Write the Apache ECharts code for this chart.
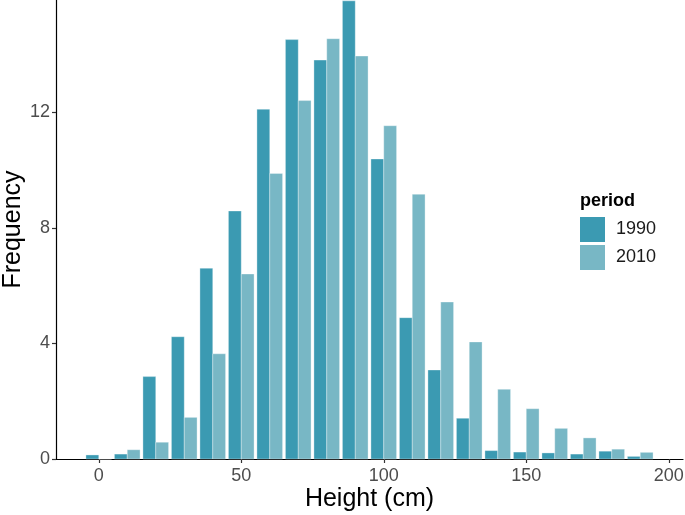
<!DOCTYPE html>
<html>
<head>
<meta charset="utf-8">
<script src="https://cdn.jsdelivr.net/npm/echarts@6/dist/echarts.min.js"></script>
<style>html,body{margin:0;padding:0;background:#fff}#c{width:685px;height:515px}</style>
</head>
<body>
<div id="c"></div>
<script>
const binCenters = [0,10,20,30,40,50,60,70,80,90,100,110,120,130,140,150,160,170,180,190];
const freq1990 = [0.14,0.17,2.85,4.23,6.60,8.58,12.10,14.51,13.80,15.85,10.38,4.89,3.08,1.41,0.29,0.24,0.21,0.17,0.27,0.09];
const freq2010 = [0,0.32,0.58,1.44,3.64,6.40,9.88,12.40,14.54,13.94,11.53,9.16,5.43,4.05,2.41,1.74,1.06,0.73,0.34,0.23];
const xTicks = [0,50,100,150,200];
const yTicks = [0,4,8,12];
const seriesNames = ['1990','2010'];
const colors = ['#3B9AB2','#78B7C5'];

const FONT = "'Liberation Sans', Arial, sans-serif";
const chart = echarts.init(document.getElementById('c'), null, {renderer:'canvas'});

function makeRender(offset, width, color){
  return function(params, api){
    const x = api.value(0), y = api.value(1);
    const p0 = api.coord([x + offset, y]);
    const p1 = api.coord([x + offset + width, 0]);
    return {
      type:'rect',
      shape:{x:p0[0], y:p0[1], width:p1[0]-p0[0], height:p1[1]-p0[1]},
      style:{fill:color, stroke:'rgba(255,255,255,0.55)', lineWidth:0.6}
    };
  };
}

const option = {
  animation:false,
  backgroundColor:'#ffffff',
  title:{text:'period', left:580, top:192, padding:0, textStyle:{fontFamily:FONT, fontSize:18, fontWeight:'bold', color:'#000'}},
  legend:{
    orient:'vertical', left:580, top:217, padding:0, itemWidth:25, itemHeight:25, itemGap:3,
    icon:'rect', data:seriesNames,
    textStyle:{fontFamily:FONT, fontSize:18, color:'#1a1a1a', padding:[0,0,0,6]}
  },
  grid:{left:56, width:627, top:0, height:459, containLabel:false, outerBoundsMode:'none'},
  xAxis:{
    type:'value', min:-15, max:205,
    name:'Height (cm)', nameLocation:'middle', nameGap:28, nameMoveOverlap:false,
    nameTextStyle:{fontFamily:FONT, fontSize:25, color:'#000'},
    axisLine:{show:true, onZero:false, lineStyle:{color:'#000', width:1.2}},
    axisTick:{show:true, length:4, customValues:xTicks, lineStyle:{color:'#333', width:1.2}},
    axisLabel:{customValues:xTicks, fontFamily:FONT, fontSize:18, color:'#4d4d4d', margin:8},
    splitLine:{show:false}
  },
  yAxis:{
    type:'value', min:0, max:15.88,
    name:'Frequency', nameLocation:'middle', nameGap:30, nameRotate:90, nameMoveOverlap:false,
    nameTextStyle:{fontFamily:FONT, fontSize:25, color:'#000'},
    axisLine:{show:true, onZero:false, lineStyle:{color:'#000', width:1.2}},
    axisTick:{show:true, length:4, customValues:yTicks, lineStyle:{color:'#333', width:1.2}},
    axisLabel:{customValues:yTicks, fontFamily:FONT, fontSize:18, color:'#4d4d4d', margin:6},
    splitLine:{show:false}
  },
  series:[
    {name:seriesNames[0], type:'custom', itemStyle:{color:colors[0]},
     renderItem:makeRender(-4.5, 4.5, colors[0]),
     encode:{x:0, y:1},
     data:binCenters.map((c,i)=>[c, freq1990[i]])},
    {name:seriesNames[1], type:'custom', itemStyle:{color:colors[1]},
     renderItem:makeRender(0, 4.5, colors[1]),
     encode:{x:0, y:1},
     data:binCenters.map((c,i)=>[c, freq2010[i]])}
  ]
};
chart.setOption(option);
</script>
</body>
</html>
